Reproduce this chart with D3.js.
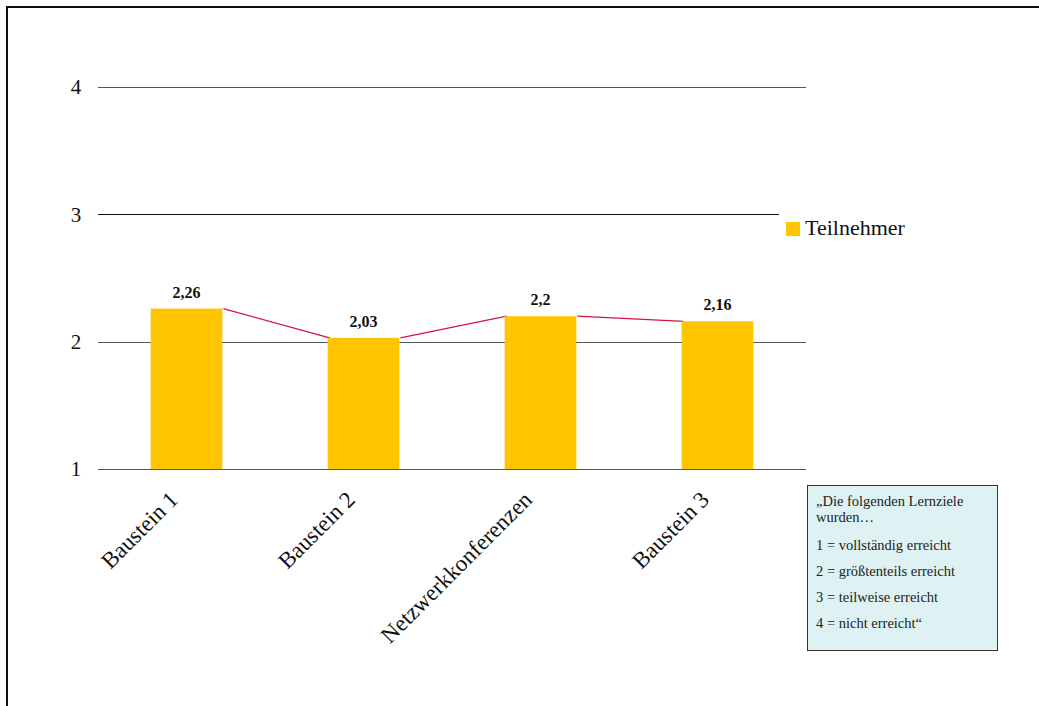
<!DOCTYPE html>
<html><head><meta charset="utf-8">
<script src="https://cdn.jsdelivr.net/npm/d3@7"></script>
<style>body{margin:0;background:#fff}svg{display:block}</style>
</head><body>
<svg id="c" width="1039" height="706"></svg>
<script>
const categories = ["Baustein 1", "Baustein 2", "Netzwerkkonferenzen", "Baustein 3"];
const values = [2.26, 2.03, 2.2, 2.16];
const valueLabels = ["2,26", "2,03", "2,2", "2,16"];
const yTicks = [1, 2, 3, 4];
const seriesName = "Teilnehmer";
const noteLines = ["„Die folgenden Lernziele", "wurden…", "1 = vollständig erreicht", "2 = größtenteils erreicht", "3 = teilweise erreicht", "4 = nicht erreicht“"];

const svg = d3.select("#c");
const serif = "'Liberation Serif','Times New Roman',serif";

// outer frame
svg.append("rect").attr("x", 7).attr("y", 7).attr("width", 1040).attr("height", 710)
  .attr("fill", "#fff").attr("stroke", "#111").attr("stroke-width", 2);

const x = d3.scaleBand().domain(categories).range([98, 806]).padding(0);
const y = d3.scaleLinear().domain([1, 4]).range([469, 87]);
const bw = x.bandwidth() * 0.405;
const bx = d => x(d) + (x.bandwidth() - bw) / 2;

// gridlines
svg.append("g").selectAll("line").data(yTicks).join("line")
  .attr("x1", 98).attr("x2", d => d === 3 ? 779 : 806)
  .attr("y1", d => Math.round(y(d)) + 0.5).attr("y2", d => Math.round(y(d)) + 0.5)
  .attr("stroke", d => d === 3 ? "#111" : "#555").attr("stroke-width", 1);

// y tick labels
svg.append("g").selectAll("text").data(yTicks).join("text")
  .attr("x", 76).attr("y", d => y(d)).attr("dy", "0.35em")
  .attr("text-anchor", "middle").attr("font-family", serif).attr("font-size", 21)
  .attr("fill", "#111").text(d => d);

// connecting line segments (between bars)
const segs = d3.pairs(categories.map((c, i) => ({c, v: values[i]})));
svg.append("g").selectAll("line").data(segs).join("line")
  .attr("x1", d => bx(d[0].c) + bw + 1).attr("y1", d => y(d[0].v))
  .attr("x2", d => bx(d[1].c) + 2).attr("y2", d => y(d[1].v))
  .attr("stroke", "#d4143f").attr("stroke-width", 1.2);

// bars
svg.append("g").selectAll("rect").data(categories).join("rect")
  .attr("x", d => bx(d)).attr("width", bw)
  .attr("y", (d, i) => y(values[i])).attr("height", (d, i) => y(1) - y(values[i]))
  .attr("fill", "#ffc600");

// value labels
svg.append("g").selectAll("text").data(categories).join("text")
  .attr("x", d => x(d) + x.bandwidth() / 2).attr("y", (d, i) => y(values[i]) - 11)
  .attr("text-anchor", "middle").attr("font-family", serif).attr("font-size", 16)
  .attr("font-weight", "bold").attr("fill", "#111").text((d, i) => valueLabels[i]);

// x labels rotated
svg.append("g").selectAll("text").data(categories).join("text")
  .attr("transform", d => `translate(${x(d) + x.bandwidth() / 2 - 7},${501}) rotate(-45)`)
  .attr("text-anchor", "end").attr("font-family", serif).attr("font-size", 23)
  .attr("fill", "#111").text(d => d);

// legend
svg.append("rect").attr("x", 786).attr("y", 222).attr("width", 14).attr("height", 14).attr("fill", "#ffc600");
svg.append("text").attr("x", 805).attr("y", 235).attr("font-family", serif).attr("font-size", 22)
  .attr("fill", "#111").text(seriesName);

// note box
svg.append("rect").attr("x", 807.5).attr("y", 485.5).attr("width", 190).attr("height", 165)
  .attr("fill", "#def1f3").attr("stroke", "#333").attr("stroke-width", 1);
const noteY = [506, 522, 550, 576, 602, 628];
svg.append("g").selectAll("text").data(noteLines).join("text")
  .attr("x", 816).attr("y", (d, i) => noteY[i]).attr("font-family", serif).attr("font-size", 14.5)
  .attr("fill", "#222").text(d => d);
</script>
</body></html>
